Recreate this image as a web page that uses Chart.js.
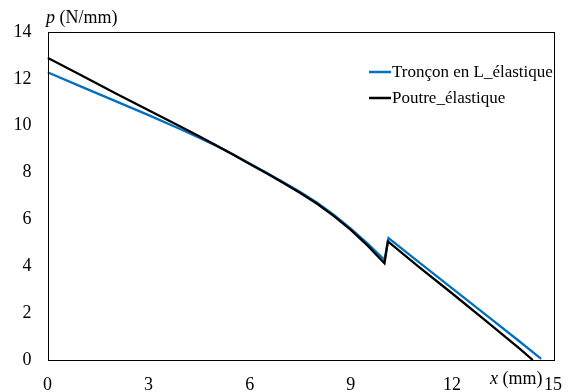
<!DOCTYPE html>
<html>
<head>
<meta charset="utf-8">
<script src="https://cdn.jsdelivr.net/npm/chart.js@4"></script>
<style>
    html, body { margin: 0; padding: 0; background: #fff; }
    #wrap { width: 576px; height: 392px; }
</style>
</head>
<body>
<div id="wrap"><canvas id="chart"></canvas></div>
<script>
// Data
const seriesNames = ['Tronçon en L_élastique', 'Poutre_élastique']

const blueX = [0, 1, 2, 3, 4, 4.5, 5, 5.5, 6, 6.5, 7, 7.5, 8, 8.5, 9, 9.5, 10.0, 10.12, 11, 12, 13, 14, 14.65]
const blueY = [12.28, 11.67, 11.06, 10.45, 9.82, 9.49, 9.15, 8.78, 8.39, 7.99, 7.59, 7.17, 6.71, 6.19, 5.61, 4.97, 4.28, 5.2, 4.2, 3.07, 1.94, 0.8, 0.05]

const blackX = [0, 1, 2, 3, 4, 4.5, 5, 5.5, 6, 6.5, 7, 7.5, 8, 8.5, 9, 9.5, 10.0, 10.1, 11, 12, 13, 14, 14.4]
const blackY = [12.9, 12.15, 11.4, 10.66, 9.92, 9.55, 9.17, 8.77, 8.37, 7.97, 7.56, 7.13, 6.67, 6.14, 5.55, 4.88, 4.13, 5.06, 4.0, 2.85, 1.68, 0.5, 0.0]

const xTicks = [0, 3, 6, 9, 12, 15]
const yTicks = [0, 2, 4, 6, 8, 10, 12, 14]

const serif = "'Liberation Serif', 'Times New Roman', serif"

function toPoints(xs, ys){
    return xs.map(function(x, i){
        return {x: x, y: ys[i]}
    })
}

// Box around the plot, axis titles, legend
const decorations = {
    id: 'decorations',
    afterDatasetsDraw(chart){
        const ctx = chart.ctx
        const a = chart.chartArea
        ctx.save()
        ctx.strokeStyle = '#000'
        ctx.lineWidth = 1
        ctx.strokeRect(Math.round(a.left) + 0.5, Math.round(a.top) + 0.5,
            Math.round(a.right - a.left), Math.round(a.bottom - a.top))

        // axis titles
        ctx.fillStyle = '#000'
        ctx.textBaseline = 'alphabetic'
        ctx.textAlign = 'left'
        ctx.font = 'italic 18px ' + serif
        ctx.fillText('p', 46, 23)
        let w = ctx.measureText('p').width
        ctx.font = '18px ' + serif
        ctx.fillText(' (N/mm)', 46 + w, 23)

        ctx.font = 'italic 18px ' + serif
        ctx.fillText('x', 490, 384)
        w = ctx.measureText('x').width
        ctx.font = '18px ' + serif
        ctx.fillText(' (mm)', 490 + w, 384)

        // legend
        const rows = [72, 98]
        chart.data.datasets.forEach(function(ds, i){
            ctx.strokeStyle = ds.borderColor
            ctx.lineWidth = 2.5
            ctx.beginPath()
            ctx.moveTo(369, rows[i])
            ctx.lineTo(391, rows[i])
            ctx.stroke()
            ctx.fillStyle = '#000'
            ctx.font = '17px ' + serif
            ctx.textBaseline = 'middle'
            ctx.fillText(ds.label, 392, rows[i] + 1)
        })
        ctx.restore()
    }
}

new Chart('chart', {
    type: 'line',
    data: {
        datasets: [
            {
                label: seriesNames[0],
                data: toPoints(blueX, blueY),
                borderColor: '#0070C0',
                borderWidth: 2.3,
                pointRadius: 0,
                tension: 0,
                order: 1,
            },
            {
                label: seriesNames[1],
                data: toPoints(blackX, blackY),
                borderColor: '#000000',
                borderWidth: 2.3,
                pointRadius: 0,
                tension: 0,
                order: 0,
            }
        ]
    },
    options: {
        responsive: true,
        maintainAspectRatio: false,
        animation: false,
        layout: {
            padding: {left: 0, right: 13, top: 32, bottom: 0}
        },
        scales: {
            x: {
                type: 'linear',
                min: 0,
                max: 15,
                grid: {display: false, drawTicks: false},
                border: {display: false},
                afterBuildTicks: function(scale){
                    scale.ticks = xTicks.map(function(v){ return {value: v} })
                },
                afterFit: function(scale){
                    scale.height = 32
                },
                ticks: {
                    color: '#000',
                    padding: 14,
                    maxRotation: 0,
                    font: {family: serif, size: 18},
                }
            },
            y: {
                min: 0,
                max: 14,
                grid: {display: false, drawTicks: false},
                border: {display: false},
                afterBuildTicks: function(scale){
                    scale.ticks = yTicks.map(function(v){ return {value: v} })
                },
                afterFit: function(scale){
                    scale.width = 47.5
                },
                ticks: {
                    color: '#000',
                    padding: 16,
                    font: {family: serif, size: 18},
                }
            }
        },
        plugins: {
            legend: {display: false},
            tooltip: {enabled: false},
        }
    },
    plugins: [decorations]
})
</script>
</body>
</html>
